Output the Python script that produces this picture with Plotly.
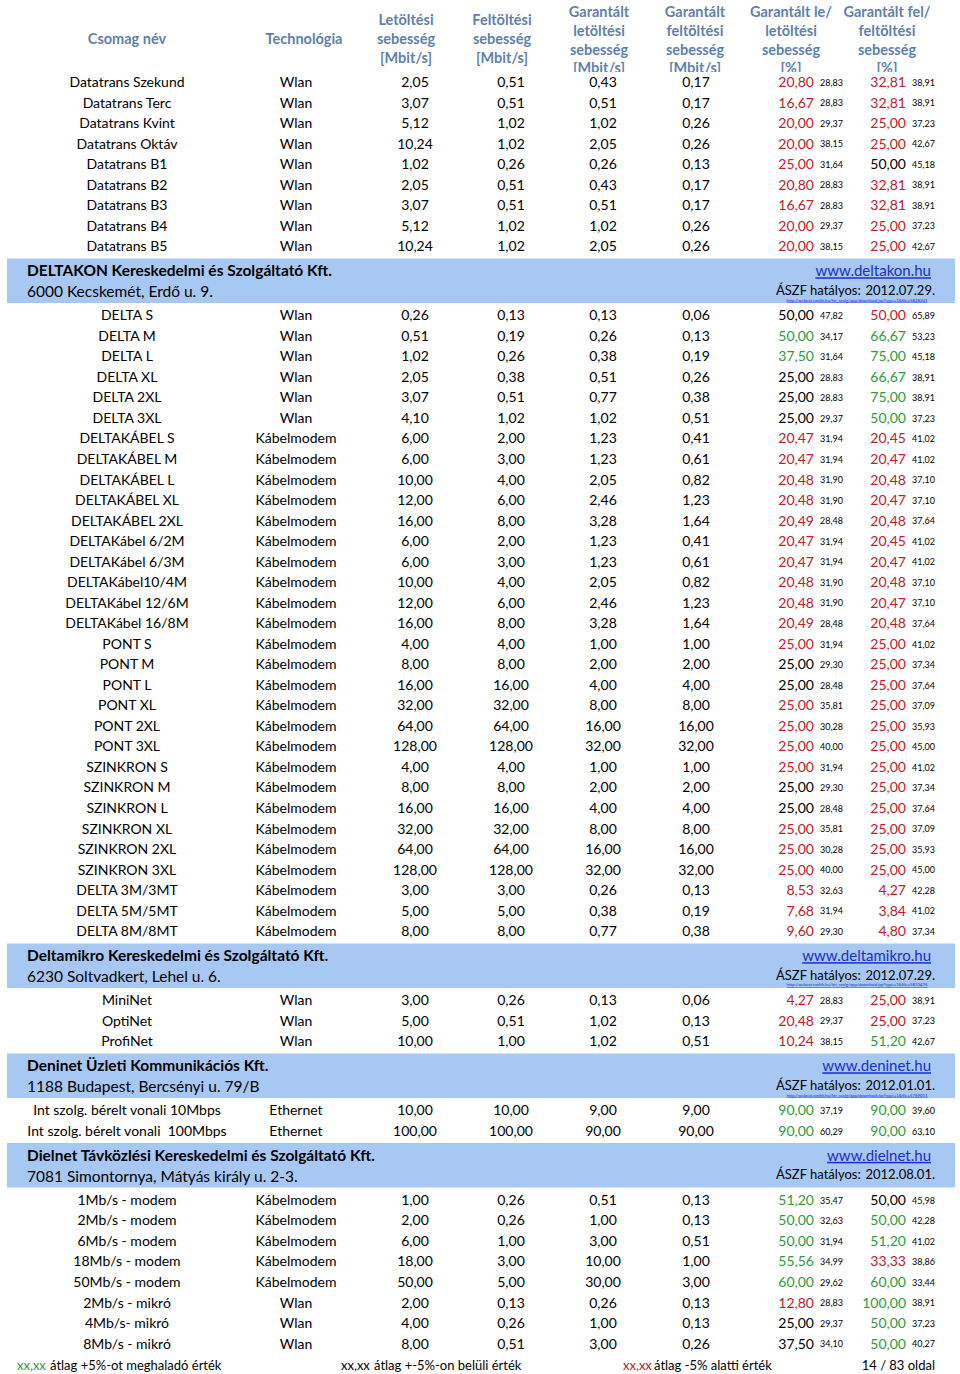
import plotly.graph_objects as go

# --- adatok (soronként, a táblázat sorrendjében) ---
names = [
    "Datatrans Szekund", "Datatrans Terc", "Datatrans Kvint", "Datatrans Oktáv",
    "Datatrans B1", "Datatrans B2", "Datatrans B3", "Datatrans B4", "Datatrans B5",
    "DELTA S", "DELTA M", "DELTA L", "DELTA XL", "DELTA 2XL", "DELTA 3XL",
    "DELTAKÁBEL S", "DELTAKÁBEL M", "DELTAKÁBEL L", "DELTAKÁBEL XL", "DELTAKÁBEL 2XL",
    "DELTAKábel 6/2M", "DELTAKábel 6/3M", "DELTAKábel10/4M", "DELTAKábel 12/6M", "DELTAKábel 16/8M",
    "PONT S", "PONT M", "PONT L", "PONT XL", "PONT 2XL", "PONT 3XL",
    "SZINKRON S", "SZINKRON M", "SZINKRON L", "SZINKRON XL", "SZINKRON 2XL", "SZINKRON 3XL",
    "DELTA 3M/3MT", "DELTA 5M/5MT", "DELTA 8M/8MT",
    "MiniNet", "OptiNet", "ProfiNet",
    "Int szolg. bérelt vonali 10Mbps", "Int szolg. bérelt vonali  100Mbps",
    "1Mb/s - modem", "2Mb/s - modem", "6Mb/s - modem", "18Mb/s - modem", "50Mb/s - modem",
    "2Mb/s - mikró", "4Mb/s- mikró", "8Mb/s - mikró",
]
techs = (["Wlan"] * 15 + ["Kábelmodem"] * 25 + ["Wlan"] * 3 + ["Ethernet"] * 2
         + ["Kábelmodem"] * 5 + ["Wlan"] * 3)
down = [
    "2,05", "3,07", "5,12", "10,24", "1,02", "2,05", "3,07", "5,12", "10,24",
    "0,26", "0,51", "1,02", "2,05", "3,07", "4,10",
    "6,00", "6,00", "10,00", "12,00", "16,00",
    "6,00", "6,00", "10,00", "12,00", "16,00",
    "4,00", "8,00", "16,00", "32,00", "64,00", "128,00",
    "4,00", "8,00", "16,00", "32,00", "64,00", "128,00",
    "3,00", "5,00", "8,00",
    "3,00", "5,00", "10,00",
    "10,00", "100,00",
    "1,00", "2,00", "6,00", "18,00", "50,00", "2,00", "4,00", "8,00",
]
up = [
    "0,51", "0,51", "1,02", "1,02", "0,26", "0,51", "0,51", "1,02", "1,02",
    "0,13", "0,19", "0,26", "0,38", "0,51", "1,02",
    "2,00", "3,00", "4,00", "6,00", "8,00",
    "2,00", "3,00", "4,00", "6,00", "8,00",
    "4,00", "8,00", "16,00", "32,00", "64,00", "128,00",
    "4,00", "8,00", "16,00", "32,00", "64,00", "128,00",
    "3,00", "5,00", "8,00",
    "0,26", "0,51", "1,00",
    "10,00", "100,00",
    "0,26", "0,26", "1,00", "3,00", "5,00", "0,13", "0,26", "0,51",
]
g_down = [
    "0,43", "0,51", "1,02", "2,05", "0,26", "0,43", "0,51", "1,02", "2,05",
    "0,13", "0,26", "0,38", "0,51", "0,77", "1,02",
    "1,23", "1,23", "2,05", "2,46", "3,28",
    "1,23", "1,23", "2,05", "2,46", "3,28",
    "1,00", "2,00", "4,00", "8,00", "16,00", "32,00",
    "1,00", "2,00", "4,00", "8,00", "16,00", "32,00",
    "0,26", "0,38", "0,77",
    "0,13", "1,02", "1,02",
    "9,00", "90,00",
    "0,51", "1,00", "3,00", "10,00", "30,00", "0,26", "1,00", "3,00",
]
g_up = [
    "0,17", "0,17", "0,26", "0,26", "0,13", "0,17", "0,17", "0,26", "0,26",
    "0,06", "0,13", "0,19", "0,26", "0,38", "0,51",
    "0,41", "0,61", "0,82", "1,23", "1,64",
    "0,41", "0,61", "0,82", "1,23", "1,64",
    "1,00", "2,00", "4,00", "8,00", "16,00", "32,00",
    "1,00", "2,00", "4,00", "8,00", "16,00", "32,00",
    "0,13", "0,19", "0,38",
    "0,06", "0,13", "0,51",
    "9,00", "90,00",
    "0,13", "0,13", "0,51", "1,00", "3,00", "0,13", "0,13", "0,26",
]
g_down_pct = [
    "20,80", "16,67", "20,00", "20,00", "25,00", "20,80", "16,67", "20,00", "20,00",
    "50,00", "50,00", "37,50", "25,00", "25,00", "25,00",
    "20,47", "20,47", "20,48", "20,48", "20,49",
    "20,47", "20,47", "20,48", "20,48", "20,49",
    "25,00", "25,00", "25,00", "25,00", "25,00", "25,00",
    "25,00", "25,00", "25,00", "25,00", "25,00", "25,00",
    "8,53", "7,68", "9,60",
    "4,27", "20,48", "10,24",
    "90,00", "90,00",
    "51,20", "50,00", "50,00", "55,56", "60,00", "12,80", "25,00", "37,50",
]
g_down_avg = [
    "28,83", "28,83", "29,37", "38,15", "31,64", "28,83", "28,83", "29,37", "38,15",
    "47,82", "34,17", "31,64", "28,83", "28,83", "29,37",
    "31,94", "31,94", "31,90", "31,90", "28,48",
    "31,94", "31,94", "31,90", "31,90", "28,48",
    "31,94", "29,30", "28,48", "35,81", "30,28", "40,00",
    "31,94", "29,30", "28,48", "35,81", "30,28", "40,00",
    "32,63", "31,94", "29,30",
    "28,83", "29,37", "38,15",
    "37,19", "60,29",
    "35,47", "32,63", "31,94", "34,99", "29,62", "28,83", "29,37", "34,10",
]
# r = átlag alatti, k = átlagos, g = átlag feletti
g_down_col = list(
    "rrrrrrrrr" "kggkkk" "rrrrr" "rrrrr" "rkkrrr" "rkkrrr" "rrr" "rrr" "gg" "gggggrkk"
)
g_up_pct = [
    "32,81", "32,81", "25,00", "25,00", "50,00", "32,81", "32,81", "25,00", "25,00",
    "50,00", "66,67", "75,00", "66,67", "75,00", "50,00",
    "20,45", "20,47", "20,48", "20,47", "20,48",
    "20,45", "20,47", "20,48", "20,47", "20,48",
    "25,00", "25,00", "25,00", "25,00", "25,00", "25,00",
    "25,00", "25,00", "25,00", "25,00", "25,00", "25,00",
    "4,27", "3,84", "4,80",
    "25,00", "25,00", "51,20",
    "90,00", "90,00",
    "50,00", "50,00", "51,20", "33,33", "60,00", "100,00", "50,00", "50,00",
]
g_up_avg = [
    "38,91", "38,91", "37,23", "42,67", "45,18", "38,91", "38,91", "37,23", "42,67",
    "65,89", "53,23", "45,18", "38,91", "38,91", "37,23",
    "41,02", "41,02", "37,10", "37,10", "37,64",
    "41,02", "41,02", "37,10", "37,10", "37,64",
    "41,02", "37,34", "37,64", "37,09", "35,93", "45,00",
    "41,02", "37,34", "37,64", "37,09", "35,93", "45,00",
    "42,28", "41,02", "37,34",
    "38,91", "37,23", "42,67",
    "39,60", "63,10",
    "45,98", "42,28", "41,02", "38,86", "33,44", "38,91", "37,23", "40,27",
]
g_up_col = list(
    "rrrrkrrrr" "rggggg" "rrrrr" "rrrrr" "rrrrrr" "rrrrrr" "rrr" "rrg" "gg" "kggrgggg"
)

# szolgáltatói fejlécek: melyik sor előtt állnak
band_before = [9, 40, 43, 45]
companies = [
    "DELTAKON Kereskedelmi és Szolgáltató Kft.",
    "Deltamikro Kereskedelmi és Szolgáltató Kft.",
    "Deninet Üzleti Kommunikációs Kft.",
    "Dielnet Távközlési Kereskedelmi és Szolgáltató Kft.",
]
addresses = [
    "6000 Kecskemét, Erdő u. 9.",
    "6230 Soltvadkert, Lehel u. 6.",
    "1188 Budapest, Bercsényi u. 79/B",
    "7081 Simontornya, Mátyás király u. 2-3.",
]
urls = ["www.deltakon.hu", "www.deltamikro.hu", "www.deninet.hu", "www.dielnet.hu"]
aszf_dates = ["2012.07.29.", "2012.07.29.", "2012.01.01.", "2012.08.01."]
aszf_links = [
    "http://webext.nmhh.hu/hir_szolg/app/download.jsp?type=1&file=5828201",
    "http://webext.nmhh.hu/hir_szolg/app/download.jsp?type=1&file=5833476",
    "http://webext.nmhh.hu/hir_szolg/app/download.jsp?type=1&file=5769011",
    "",
]

headers = [
    "Csomag név", "Technológia",
    "Letöltési<br>sebesség<br>[Mbit/s]", "Feltöltési<br>sebesség<br>[Mbit/s]",
    "Garantált<br>letöltési<br>sebesség<br>[Mbit/s]",
    "Garantált<br>feltöltési<br>sebesség<br>[Mbit/s]",
    "Garantált le/<br>letöltési<br>sebesség<br>[%]",
    "Garantált fel/<br>feltöltési<br>sebesség<br>[%]",
]
footer_texts = ["xx,xx", "átlag +5%-ot meghaladó érték", "xx,xx", "átlag +-5%-on belüli érték",
                "xx,xx", "átlag -5% alatti érték"]
page_label = "14 / 83 oldal"

# --- elrendezés ---
W, H = 960, 1374
FONT = "Lato, 'Open Sans', sans-serif"
RED, GREEN, BLACK = "#C0202A", "#2F9A3E", "#000000"
HEAD_BLUE = "#5F7FB0"
BAND_BLUE = "#A8C8F4"
LINK_BLUE = "#1A2FD0"
ROW_H, BAND_H = 20.53, 48.5
TEXT_DY = 1.5  # a szöveg függőleges korrekciója
COLS = {"name": 127, "tech": 296, "down": 415, "up": 511, "gdown": 603, "gup": 696}
HEAD_X = [127, 304, 406, 502, 599, 695, 791, 887]
HEAD_Y = [39, 39, 39, 39, 40, 40, 40, 40]
colmap = {"r": RED, "g": GREEN, "k": BLACK}

# sorok függőleges helye
row_y, band_top = [], []
cur = 82 - ROW_H / 2
for i in range(len(names)):
    if i in band_before:
        band_top.append(cur)
        cur += BAND_H
    row_y.append(cur + ROW_H / 2)
    cur += ROW_H
footer_y = cur + ROW_H / 2 + 1.5

fig = go.Figure()


def add_text(x, y, text, pos="middle center", size=14, color=BLACK, weight="normal",
             yaxis="y", underline=False):
    fig.add_trace(go.Scatter(
        x=x, y=[v + TEXT_DY for v in y], text=text, mode="text", textposition=pos,
        textfont=dict(family=FONT, size=size, color=color, weight=weight,
                      lineposition="under" if underline else "none"),
        hoverinfo="skip", showlegend=False, yaxis=yaxis, cliponaxis=True,
    ))


n = len(names)
add_text([COLS["name"]] * n, row_y, names)
add_text([COLS["tech"]] * n, row_y, techs)
add_text([COLS["down"]] * n, row_y, down)
add_text([COLS["up"]] * n, row_y, up)
add_text([COLS["gdown"]] * n, row_y, g_down)
add_text([COLS["gup"]] * n, row_y, g_up)
add_text([814] * n, row_y, g_down_pct, pos="middle left",
         color=[colmap[c] for c in g_down_col])
add_text([820] * n, row_y, g_down_avg, pos="middle right", size=9)
add_text([906] * n, row_y, g_up_pct, pos="middle left",
         color=[colmap[c] for c in g_up_col])
add_text([912] * n, row_y, g_up_avg, pos="middle right", size=9)

# szolgáltatói sávok
for top in band_top:
    fig.add_shape(type="rect", x0=7, x1=955, y0=top + 2, y1=top + 46.5,
                  fillcolor=BAND_BLUE, line_width=0, layer="below")
nb = len(band_top)
add_text([27] * nb, [t + 14.5 for t in band_top], companies, pos="middle right",
         size=15.5, weight="bold")
add_text([27] * nb, [t + 35.5 for t in band_top], addresses, pos="middle right", size=15.5)
add_text([931] * nb, [t + 14.5 for t in band_top], urls, pos="middle left", size=15,
         color=LINK_BLUE, underline=True)
add_text([776] * nb, [t + 33.5 for t in band_top], ["ÁSZF hatályos:"] * nb,
         pos="middle right", size=13)
add_text([935] * nb, [t + 33.5 for t in band_top], aszf_dates, pos="middle left", size=13)
add_text([857] * nb, [t + 42.5 for t in band_top], aszf_links, size=4.3, color=LINK_BLUE,
         underline=True)

# oszlopfejléc (alul levágva, mint az eredetin)
add_text(HEAD_X, HEAD_Y, headers, size=14.5, color=HEAD_BLUE, weight="bold", yaxis="y2")

# lábléc
add_text([17, 50, 341, 374, 623, 654], [footer_y] * 6, footer_texts, pos="middle right",
         size=13, color=[GREEN, BLACK, BLACK, BLACK, RED, BLACK])
add_text([935], [footer_y], [page_label], pos="middle left", size=13)

fig.update_layout(
    width=W, height=H,
    margin=dict(l=0, r=0, t=0, b=0),
    paper_bgcolor="white", plot_bgcolor="white",
    xaxis=dict(range=[0, W], visible=False, fixedrange=True),
    yaxis=dict(range=[H, 0], visible=False, fixedrange=True, domain=[0, 1]),
    yaxis2=dict(range=[72, 0], visible=False, fixedrange=True, anchor="x",
                domain=[1 - 72 / H, 1]),
)

fig.write_html("out.html", config={"displayModeBar": False},
               post_script="document.body.style.margin='0';")
